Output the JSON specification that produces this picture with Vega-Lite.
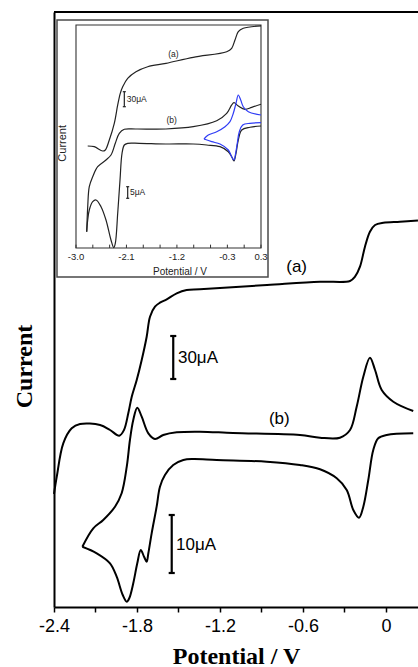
{
"$schema":"https://vega.github.io/schema/vega-lite/v6.json",
"width":364,"height":595,
"autosize":"none",
"padding":{"left":54,"top":12,"right":0,"bottom":60},
"background":"white",
"config":{"view":{"stroke":null},"font":"Liberation Sans"},
"datasets":{
"main":[
{"c":"a","k":1,"x":-2.4,"y":113},{"c":"a","k":2,"x":-2.38,"y":130.3},{"c":"a","k":3,"x":-2.333,"y":163.7},{"c":"a","k":4,"x":-2.272,"y":178.7},{"c":"a","k":5,"x":-2.212,"y":183},{"c":"a","k":6,"x":-2.067,"y":182},{"c":"a","k":7,"x":-1.995,"y":177},{"c":"a","k":8,"x":-1.928,"y":171.3},{"c":"a","k":9,"x":-1.894,"y":177},{"c":"a","k":10,"x":-1.863,"y":193.7},{"c":"a","k":11,"x":-1.838,"y":210.3},{"c":"a","k":12,"x":-1.802,"y":227},{"c":"a","k":13,"x":-1.766,"y":247},{"c":"a","k":14,"x":-1.73,"y":270.3},{"c":"a","k":15,"x":-1.706,"y":290.3},{"c":"a","k":16,"x":-1.67,"y":300.3},{"c":"a","k":17,"x":-1.634,"y":304.3},{"c":"a","k":18,"x":-1.585,"y":307.7},{"c":"a","k":19,"x":-1.513,"y":313.7},{"c":"a","k":20,"x":-1.441,"y":317},{"c":"a","k":21,"x":-1.345,"y":317.7},{"c":"a","k":22,"x":-0.86,"y":322},{"c":"a","k":23,"x":-0.477,"y":325.3},{"c":"a","k":24,"x":-0.26,"y":326},{"c":"a","k":25,"x":-0.224,"y":330.3},{"c":"a","k":26,"x":-0.188,"y":340.3},{"c":"a","k":27,"x":-0.152,"y":360.3},{"c":"a","k":28,"x":-0.116,"y":375.3},{"c":"a","k":29,"x":-0.079,"y":382},{"c":"a","k":30,"x":-0.019,"y":384.3},{"c":"a","k":31,"x":0.101,"y":385.3},{"c":"a","k":32,"x":0.231,"y":386.5},
{"c":"b_up","k":1,"x":-2.195,"y":60.3},{"c":"b_up","k":2,"x":-2.116,"y":78.7},{"c":"b_up","k":3,"x":-2.044,"y":87},{"c":"b_up","k":4,"x":-1.959,"y":100.3},{"c":"b_up","k":5,"x":-1.911,"y":113.7},{"c":"b_up","k":6,"x":-1.874,"y":140.3},{"c":"b_up","k":7,"x":-1.851,"y":167},{"c":"b_up","k":8,"x":-1.827,"y":187},{"c":"b_up","k":9,"x":-1.798,"y":199.3},{"c":"b_up","k":10,"x":-1.766,"y":190.3},{"c":"b_up","k":11,"x":-1.718,"y":173.7},{"c":"b_up","k":12,"x":-1.67,"y":168},{"c":"b_up","k":13,"x":-1.61,"y":172},{"c":"b_up","k":14,"x":-1.513,"y":174.7},{"c":"b_up","k":15,"x":-1.345,"y":175.3},{"c":"b_up","k":16,"x":-1.106,"y":174},{"c":"b_up","k":17,"x":-0.622,"y":172},{"c":"b_up","k":18,"x":-0.477,"y":169.3},{"c":"b_up","k":19,"x":-0.333,"y":169.3},{"c":"b_up","k":20,"x":-0.26,"y":177},{"c":"b_up","k":21,"x":-0.212,"y":200.3},{"c":"b_up","k":22,"x":-0.164,"y":230.3},{"c":"b_up","k":23,"x":-0.116,"y":249.3},{"c":"b_up","k":24,"x":-0.079,"y":237},{"c":"b_up","k":25,"x":-0.031,"y":217},{"c":"b_up","k":26,"x":0.053,"y":205.3},{"c":"b_up","k":27,"x":0.197,"y":196},
{"c":"b_dn","k":1,"x":0.197,"y":173.7},{"c":"b_dn","k":2,"x":0.005,"y":172},{"c":"b_dn","k":3,"x":-0.056,"y":168.7},{"c":"b_dn","k":4,"x":-0.092,"y":157},{"c":"b_dn","k":5,"x":-0.128,"y":127},{"c":"b_dn","k":6,"x":-0.164,"y":100.3},{"c":"b_dn","k":7,"x":-0.195,"y":89.3},{"c":"b_dn","k":8,"x":-0.236,"y":97},{"c":"b_dn","k":9,"x":-0.284,"y":117},{"c":"b_dn","k":10,"x":-0.356,"y":128.7},{"c":"b_dn","k":11,"x":-0.477,"y":137.7},{"c":"b_dn","k":12,"x":-0.622,"y":142},{"c":"b_dn","k":13,"x":-0.862,"y":145.3},{"c":"b_dn","k":14,"x":-1.224,"y":147},{"c":"b_dn","k":15,"x":-1.395,"y":148},{"c":"b_dn","k":16,"x":-1.465,"y":147},{"c":"b_dn","k":17,"x":-1.538,"y":142},{"c":"b_dn","k":18,"x":-1.598,"y":132},{"c":"b_dn","k":19,"x":-1.634,"y":120.3},{"c":"b_dn","k":20,"x":-1.658,"y":100.3},{"c":"b_dn","k":21,"x":-1.694,"y":73.7},{"c":"b_dn","k":22,"x":-1.718,"y":53.7},{"c":"b_dn","k":23,"x":-1.73,"y":45.3},{"c":"b_dn","k":24,"x":-1.749,"y":50.3},{"c":"b_dn","k":25,"x":-1.773,"y":57},{"c":"b_dn","k":26,"x":-1.798,"y":43.7},{"c":"b_dn","k":27,"x":-1.827,"y":23.7},{"c":"b_dn","k":28,"x":-1.856,"y":8.7},{"c":"b_dn","k":29,"x":-1.874,"y":5.3},{"c":"b_dn","k":30,"x":-1.903,"y":12},{"c":"b_dn","k":31,"x":-1.947,"y":30.3},{"c":"b_dn","k":32,"x":-1.995,"y":43.7},{"c":"b_dn","k":33,"x":-2.091,"y":53.7},{"c":"b_dn","k":34,"x":-2.195,"y":60.3}
],
"main_rules":[
{"x":-2.4,"x2":0.2314,"y":595,"y2":595,"w":"frame"},
{"x":-1.538,"x2":-1.538,"y":228,"y2":271,"w":"bar"},{"x":-1.56,"x2":-1.516,"y":271,"y2":271,"w":"bar"},{"x":-1.56,"x2":-1.516,"y":228,"y2":228,"w":"bar"},
{"x":-1.549,"x2":-1.549,"y":34,"y2":92,"w":"bar"},{"x":-1.571,"x2":-1.527,"y":92,"y2":92,"w":"bar"},{"x":-1.571,"x2":-1.527,"y":34,"y2":34,"w":"bar"}
],
"main_tags":[{"x":-0.646,"y":340.3,"t":"(a)"},{"x":-0.771,"y":187.7,"t":"(b)"}],
"main_scales":[{"x":-1.504,"y":249,"t":"30μA"},{"x":-1.518,"y":62,"t":"10μA"}],
"inset_frame":[{"x":-3.339,"x2":0.425,"y":-13.0,"y2":102.24}],
"inset_plot":[{"x":-3.0,"x2":0.3,"y":0,"y2":100}],
"inset":[
{"c":"a","k":1,"x":-2.791,"y":45.74},{"c":"a","k":2,"x":-2.674,"y":45.43},{"c":"a","k":3,"x":-2.524,"y":43.5},{"c":"a","k":4,"x":-2.477,"y":43.95},{"c":"a","k":5,"x":-2.406,"y":48.43},{"c":"a","k":6,"x":-2.317,"y":55.92},{"c":"a","k":7,"x":-2.256,"y":64.13},{"c":"a","k":8,"x":-2.21,"y":69.37},{"c":"a","k":9,"x":-2.167,"y":72.33},{"c":"a","k":10,"x":-2.078,"y":76.1},{"c":"a","k":11,"x":-1.93,"y":79.06},{"c":"a","k":12,"x":-1.721,"y":81.3},{"c":"a","k":13,"x":-1.395,"y":82.83},{"c":"a","k":14,"x":-0.908,"y":85.52},{"c":"a","k":15,"x":-0.312,"y":88.03},{"c":"a","k":16,"x":-0.223,"y":89.55},{"c":"a","k":17,"x":-0.164,"y":93.27},{"c":"a","k":18,"x":-0.105,"y":97.0},{"c":"a","k":19,"x":-0.016,"y":98.52},{"c":"a","k":20,"x":0.3,"y":99.6},
{"c":"b_up","k":1,"x":-2.809,"y":7.31},{"c":"b_up","k":2,"x":-2.791,"y":18.52},{"c":"b_up","k":3,"x":-2.763,"y":27.49},{"c":"b_up","k":4,"x":-2.702,"y":31.97},{"c":"b_up","k":5,"x":-2.613,"y":36.46},{"c":"b_up","k":6,"x":-2.465,"y":39.46},{"c":"b_up","k":7,"x":-2.376,"y":41.7},{"c":"b_up","k":8,"x":-2.299,"y":46.95},{"c":"b_up","k":9,"x":-2.228,"y":51.43},{"c":"b_up","k":10,"x":-2.138,"y":53.23},{"c":"b_up","k":11,"x":-1.93,"y":53.36},{"c":"b_up","k":12,"x":-1.395,"y":53.36},{"c":"b_up","k":13,"x":-0.908,"y":54.39},{"c":"b_up","k":14,"x":-0.49,"y":57.09},{"c":"b_up","k":15,"x":-0.312,"y":60.4},{"c":"b_up","k":16,"x":-0.223,"y":64.13},{"c":"b_up","k":17,"x":-0.182,"y":65.16},{"c":"b_up","k":18,"x":-0.105,"y":63.68},{"c":"b_up","k":19,"x":0.015,"y":62.2},{"c":"b_up","k":20,"x":0.134,"y":63.09},{"c":"b_up","k":21,"x":0.3,"y":64.44},
{"c":"b_dn","k":1,"x":0.3,"y":54.71},{"c":"b_dn","k":2,"x":0.104,"y":54.13},{"c":"b_dn","k":3,"x":-0.044,"y":52.91},{"c":"b_dn","k":4,"x":-0.105,"y":48.43},{"c":"b_dn","k":5,"x":-0.146,"y":42.47},{"c":"b_dn","k":6,"x":-0.182,"y":39.01},{"c":"b_dn","k":7,"x":-0.223,"y":40.94},{"c":"b_dn","k":8,"x":-0.283,"y":43.18},{"c":"b_dn","k":9,"x":-0.431,"y":45.43},{"c":"b_dn","k":10,"x":-0.669,"y":46.19},{"c":"b_dn","k":11,"x":-0.908,"y":46.64},{"c":"b_dn","k":12,"x":-1.395,"y":46.64},{"c":"b_dn","k":13,"x":-1.871,"y":46.95},{"c":"b_dn","k":14,"x":-2.078,"y":46.95},{"c":"b_dn","k":15,"x":-2.138,"y":46.19},{"c":"b_dn","k":16,"x":-2.179,"y":42.47},{"c":"b_dn","k":17,"x":-2.215,"y":30.49},{"c":"b_dn","k":18,"x":-2.256,"y":15.56},{"c":"b_dn","k":19,"x":-2.299,"y":2.11},{"c":"b_dn","k":20,"x":-2.327,"y":0.2},{"c":"b_dn","k":21,"x":-2.376,"y":3.59},{"c":"b_dn","k":22,"x":-2.465,"y":12.56},{"c":"b_dn","k":23,"x":-2.554,"y":18.52},{"c":"b_dn","k":24,"x":-2.643,"y":21.52},{"c":"b_dn","k":25,"x":-2.702,"y":20.76},{"c":"b_dn","k":26,"x":-2.763,"y":17.04},{"c":"b_dn","k":27,"x":-2.791,"y":12.56},{"c":"b_dn","k":28,"x":-2.809,"y":7.31},
{"c":"blue_up","k":1,"x":-0.717,"y":48.88},{"c":"blue_up","k":2,"x":-0.64,"y":50.67},{"c":"blue_up","k":3,"x":-0.49,"y":52.15},{"c":"blue_up","k":4,"x":-0.342,"y":54.39},{"c":"blue_up","k":5,"x":-0.253,"y":56.64},{"c":"blue_up","k":6,"x":-0.194,"y":60.4},{"c":"blue_up","k":7,"x":-0.146,"y":64.89},{"c":"blue_up","k":8,"x":-0.105,"y":68.61},{"c":"blue_up","k":9,"x":-0.062,"y":66.37},{"c":"blue_up","k":10,"x":-0.016,"y":63.36},{"c":"blue_up","k":11,"x":0.074,"y":61.12},{"c":"blue_up","k":12,"x":0.3,"y":59.64},
{"c":"blue_dn","k":1,"x":0.3,"y":56.19},{"c":"blue_dn","k":2,"x":0.104,"y":55.92},{"c":"blue_dn","k":3,"x":-0.026,"y":55.16},{"c":"blue_dn","k":4,"x":-0.087,"y":52.15},{"c":"blue_dn","k":5,"x":-0.123,"y":46.95},{"c":"blue_dn","k":6,"x":-0.158,"y":41.7},{"c":"blue_dn","k":7,"x":-0.182,"y":39.46},{"c":"blue_dn","k":8,"x":-0.223,"y":40.94},{"c":"blue_dn","k":9,"x":-0.283,"y":43.95},{"c":"blue_dn","k":10,"x":-0.431,"y":46.64},{"c":"blue_dn","k":11,"x":-0.579,"y":47.67},{"c":"blue_dn","k":12,"x":-0.717,"y":48.88}
],
"inset_ticks":[{"x":-3.0,"y":0,"y2":1.5},{"x":-2.7,"y":0,"y2":1.5},{"x":-2.4,"y":0,"y2":1.5},{"x":-2.1,"y":0,"y2":1.5},{"x":-1.8,"y":0,"y2":1.5},{"x":-1.5,"y":0,"y2":1.5},{"x":-1.2,"y":0,"y2":1.5},{"x":-0.9,"y":0,"y2":1.5},{"x":-0.6,"y":0,"y2":1.5},{"x":-0.3,"y":0,"y2":1.5},{"x":0.0,"y":0,"y2":1.5},{"x":0.3,"y":0,"y2":1.5}],
"inset_bars":[
{"x":-2.138,"x2":-2.138,"y":63.36,"y2":70.09},{"x":-2.165,"x2":-2.111,"y":70.09,"y2":70.09},{"x":-2.165,"x2":-2.111,"y":63.36,"y2":63.36},
{"x":-2.078,"x2":-2.078,"y":22.29,"y2":27.49},{"x":-2.105,"x2":-2.051,"y":27.49,"y2":27.49},{"x":-2.105,"x2":-2.051,"y":22.29,"y2":22.29}
],
"inset_ticklabels":[{"x":-3.0,"y":-4.17,"t":"-3.0"},{"x":-2.1,"y":-4.17,"t":"-2.1"},{"x":-1.2,"y":-4.17,"t":"-1.2"},{"x":-0.3,"y":-4.17,"t":"-0.3"},{"x":0.3,"y":-4.17,"t":"0.3"}],
"inset_tags":[{"x":-1.264,"y":86.86,"t":"(a)"},{"x":-1.293,"y":57.4,"t":"(b)"}],
"inset_scales":[{"x":-2.096,"y":66.68,"t":"30μA"},{"x":-2.037,"y":25.25,"t":"5μA"}],
"inset_xtitle":[{"x":-1.145,"y":-10.63,"t":"Potential / V"}],
"inset_ytitle":[{"x":-3.237,"y":46.95,"t":"Current"}]
},
"layer":[
{
"encoding":{
"x":{"field":"x","type":"quantitative","scale":{"domain":[-2.4,0.2314],"nice":false,"zero":false},
"axis":{"values":[-2.4,-2.1,-1.8,-1.5,-1.2,-0.9,-0.6,-0.3,0],"labelExpr":"round(datum.value*10) % 6 == 0 ? '' + datum.value : ''","labelFlush":false,"labelFont":"Liberation Sans","labelFontSize":18,"labelColor":"black","labelPadding":5,"tickSize":5,"tickWidth":1.5,"tickColor":"black","domainColor":"black","domainWidth":2,"grid":false,"title":"Potential / V","titleFont":"Liberation Serif","titleFontSize":24,"titleFontWeight":"bold","titleColor":"black","titleBaseline":"middle","titleY":49}},
"y":{"field":"y","type":"quantitative","scale":{"domain":[0,595],"nice":false,"zero":false},
"axis":{"ticks":false,"labels":false,"grid":false,"domainColor":"black","domainWidth":2,"title":"Current","titleFont":"Liberation Serif","titleFontSize":24,"titleFontWeight":"bold","titleColor":"black","titleAngle":270,"titleAlign":"center","titleBaseline":"middle","titleX":-30,"titleY":354}}
},
"layer":[
{"data":{"name":"main"},"mark":{"type":"line","color":"black","strokeWidth":2,"interpolate":"catmull-rom"},"encoding":{"detail":{"field":"c"},"order":{"field":"k","type":"quantitative"}}},
{"data":{"name":"main_rules"},"mark":{"type":"rule","color":"black","strokeWidth":2.2},"encoding":{"x2":{"field":"x2"},"y2":{"field":"y2"}}},
{"data":{"name":"main_tags"},"mark":{"type":"text","fontSize":17,"font":"Liberation Sans","align":"center","baseline":"middle","color":"black"},"encoding":{"text":{"field":"t"}}},
{"data":{"name":"main_scales"},"mark":{"type":"text","fontSize":17,"font":"Liberation Sans","align":"left","baseline":"middle","color":"black"},"encoding":{"text":{"field":"t"}}}
]
},
{
"encoding":{
"x":{"field":"x","type":"quantitative","scale":{"domain":[-3.3924,3.1006],"nice":false,"zero":false},"axis":null},
"y":{"field":"y","type":"quantitative","scale":{"domain":[-160.99,105.83],"nice":false,"zero":false},"axis":null}
},
"layer":[
{"data":{"name":"inset_frame"},"mark":{"type":"rect","fill":"white","stroke":"#4a4a4a","strokeWidth":1.5},"encoding":{"x2":{"field":"x2"},"y2":{"field":"y2"}}},
{"data":{"name":"inset_plot"},"mark":{"type":"rect","fill":null,"stroke":"#333333","strokeWidth":1.1},"encoding":{"x2":{"field":"x2"},"y2":{"field":"y2"}}},
{"data":{"name":"inset_ticks"},"mark":{"type":"rule","color":"#333333","strokeWidth":1},"encoding":{"y2":{"field":"y2"}}},
{"data":{"name":"inset_bars"},"mark":{"type":"rule","color":"#222222","strokeWidth":1.2},"encoding":{"x2":{"field":"x2"},"y2":{"field":"y2"}}},
{"data":{"name":"inset"},"mark":{"type":"line","strokeWidth":1.2,"interpolate":"catmull-rom"},"encoding":{"detail":{"field":"c"},"order":{"field":"k","type":"quantitative"},"color":{"field":"c","type":"nominal","legend":null,"scale":{"domain":["a","b_up","b_dn","blue_up","blue_dn"],"range":["#222222","#222222","#222222","#2f3cf5","#2f3cf5"]}}}},
{"data":{"name":"inset_ticklabels"},"mark":{"type":"text","fontSize":9.5,"font":"Liberation Sans","align":"center","baseline":"middle","color":"#222222"},"encoding":{"text":{"field":"t"}}},
{"data":{"name":"inset_tags"},"mark":{"type":"text","fontSize":8.5,"font":"Liberation Sans","align":"center","baseline":"middle","color":"#222222"},"encoding":{"text":{"field":"t"}}},
{"data":{"name":"inset_scales"},"mark":{"type":"text","fontSize":8.5,"font":"Liberation Sans","align":"left","baseline":"middle","color":"#222222"},"encoding":{"text":{"field":"t"}}},
{"data":{"name":"inset_xtitle"},"mark":{"type":"text","fontSize":10,"font":"Liberation Sans","align":"center","baseline":"middle","color":"#222222"},"encoding":{"text":{"field":"t"}}},
{"data":{"name":"inset_ytitle"},"mark":{"type":"text","fontSize":11,"font":"Liberation Sans","align":"center","baseline":"middle","angle":270,"color":"#222222"},"encoding":{"text":{"field":"t"}}}
]
}
],
"resolve":{"scale":{"x":"independent","y":"independent"}}
}
